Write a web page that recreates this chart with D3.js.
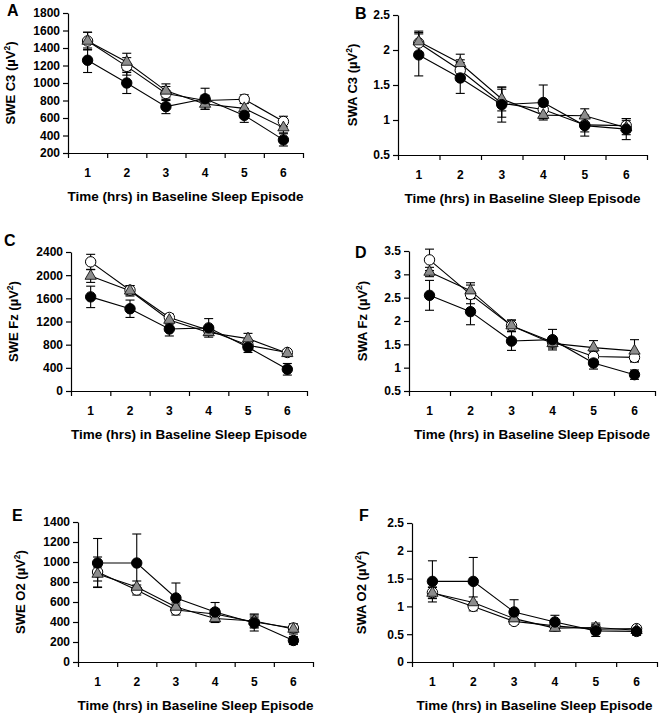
<!DOCTYPE html>
<html lang="en">
<head>
<meta charset="UTF-8" />
<script src="https://cdn.jsdelivr.net/npm/d3@7"></script>
<style>
  body { margin: 0; background: #fff; }
  svg text { font-family: "Liberation Sans", Arial, sans-serif; font-weight: bold; fill: #000; }
</style>
<title>SWE / SWA by hour</title>
</head>
<body>
<div id="fig"></div>
<script>
// hours of the baseline sleep episode
const hours = [1, 2, 3, 4, 5, 6];
const xTitle = "Time (hrs) in Baseline Sleep Episode";

// each panel: [filled circle, open circle, grey triangle]
const sweC3 = [[1260, 1000, 730, 820, 630, 350], [1480, 1190, 880, 800, 815, 560], [1480, 1240, 910, 760, 710, 490]];
const sweC3Err = [[140, 120, 80, 120, 80, 70], [100, 100, 80, 60, 50, 60], [100, 100, 80, 60, 60, 60]];

const swaC3 = [[1.93, 1.6, 1.22, 1.25, 0.92, 0.87], [2.1, 1.71, 1.24, 1.15, 0.93, 0.92], [2.12, 1.81, 1.3, 1.07, 1.06, 0.89]];
const swaC3Err = [[0.3, 0.22, 0.25, 0.25, 0.15, 0.15], [0.15, 0.15, 0.2, 0.1, 0.1, 0.1], [0.15, 0.13, 0.17, 0.05, 0.1, 0.1]];

const sweFz = [[1625, 1420, 1070, 1090, 755, 375], [2230, 1740, 1270, 1050, 790, 665], [1985, 1730, 1225, 1010, 905, 650]];
const sweFzErr = [[185, 150, 120, 160, 90, 100], [130, 80, 60, 60, 60, 50], [110, 90, 70, 50, 90, 50]];

const swaFz = [[2.55, 2.2, 1.57, 1.6, 1.1, 0.85], [3.31, 2.57, 1.9, 1.55, 1.24, 1.22], [3.05, 2.65, 1.9, 1.52, 1.43, 1.36]];
const swaFzErr = [[0.32, 0.28, 0.2, 0.22, 0.13, 0.1], [0.23, 0.2, 0.12, 0.1, 0.1, 0.08], [0.1, 0.17, 0.12, 0.1, 0.15, 0.24]];

const sweO2 = [[990, 990, 640, 500, 390, 215], [900, 720, 520, 480, 400, 340], [880, 750, 550, 435, 410, 330]];
const sweO2Err = [[245, 290, 150, 95, 80, 40], [150, 50, 50, 50, 50, 40], [70, 60, 40, 40, 70, 50]];

const swaO2 = [[1.45, 1.45, 0.9, 0.72, 0.56, 0.55], [1.25, 1.0, 0.73, 0.65, 0.59, 0.6], [1.24, 1.07, 0.78, 0.61, 0.62, 0.57]];
const swaO2Err = [[0.37, 0.43, 0.22, 0.12, 0.1, 0.07], [0.1, 0.08, 0.05, 0.05, 0.08, 0.05], [0.1, 0.1, 0.05, 0.05, 0.08, 0.05]];

const intFmt = d3.format("d"),
  decFmt = d3.format("~g");

// layout of the six panels (plot box in page pixels)
const panels = [
  { tag: "A", label: "SWE C3", means: sweC3, errs: sweC3Err, dom: [200, 1800], step: 200, fmt: intFmt,
    x0: 68, x1: 303, y0: 13, y1: 153, labOff: 53, tagX: 7, tagY: 16 },
  { tag: "B", label: "SWA C3", means: swaC3, errs: swaC3Err, dom: [0.5, 2.5], step: 0.5, fmt: decFmt,
    x0: 398, x1: 647, y0: 15, y1: 155, labOff: 41, tagX: 355, tagY: 19 },
  { tag: "C", label: "SWE Fz", means: sweFz, errs: sweFzErr, dom: [0, 2400], step: 400, fmt: intFmt,
    x0: 71, x1: 307, y0: 252, y1: 391, labOff: 53, tagX: 4, tagY: 246 },
  { tag: "D", label: "SWA Fz", means: swaFz, errs: swaFzErr, dom: [0.5, 3.5], step: 0.5, fmt: decFmt,
    x0: 409, x1: 655, y0: 251, y1: 391, labOff: 42, tagX: 355, tagY: 258 },
  { tag: "E", label: "SWE O2", means: sweO2, errs: sweO2Err, dom: [0, 1400], step: 200, fmt: intFmt,
    x0: 78, x1: 313, y0: 522, y1: 662, labOff: 53, tagX: 12, tagY: 521 },
  { tag: "F", label: "SWA O2", means: swaO2, errs: swaO2Err, dom: [0, 2.5], step: 0.5, fmt: decFmt,
    x0: 412, x1: 657, y0: 523, y1: 662, labOff: 46, tagX: 359, tagY: 521 },
];

const svg = d3.select("#fig").append("svg").attr("width", 661).attr("height", 718);

// draw order: open circle, triangle, filled circle
const drawOrder = [1, 2, 0];
const triangle = d3.symbol().type(d3.symbolTriangle).size(55);

panels.forEach((p) => {
  const g = svg.append("g");
  const x = d3.scaleLinear().domain([0.5, 6.5]).range([p.x0, p.x1]);
  const y = d3.scaleLinear().domain(p.dom).range([p.y1, p.y0]);
  const yTicks = d3.range(p.dom[0], p.dom[1] + p.step / 2, p.step);

  // Y axis
  const ya = g.append("g")
    .attr("transform", `translate(${p.x0},0)`)
    .call(d3.axisLeft(y).tickValues(yTicks).tickFormat(p.fmt).tickSize(5).tickSizeOuter(0).tickPadding(3));
  ya.selectAll("text").attr("font-size", 12).style("font-family", null);

  // X axis: ticks between hours, labels at hours
  g.append("g")
    .attr("transform", `translate(0,${p.y1})`)
    .call(d3.axisBottom(x).tickValues(d3.range(0.5, 7, 1)).tickFormat("").tickSize(5).tickSizeOuter(0));
  g.selectAll(".domain, .tick line").attr("stroke", "#000").attr("stroke-width", 1.2);

  g.selectAll(".hr")
    .data(hours)
    .enter()
    .append("text")
    .attr("x", (d) => x(d))
    .attr("y", p.y1 + 24)
    .attr("text-anchor", "middle")
    .attr("font-size", 12)
    .text((d) => d);

  g.append("text")
    .attr("x", (p.x0 + p.x1) / 2)
    .attr("y", p.y1 + 48)
    .attr("text-anchor", "middle")
    .attr("font-size", 13.5)
    .text(xTitle);

  // Y label with superscript
  const yl = g.append("text")
    .attr("transform", `translate(${p.x0 - p.labOff},${(p.y0 + p.y1) / 2}) rotate(-90)`)
    .attr("text-anchor", "middle")
    .attr("font-size", 13);
  yl.append("tspan").text(p.label + " (\u00b5V");
  yl.append("tspan").attr("dy", -5).attr("font-size", 8.5).text("2");
  yl.append("tspan").attr("dy", 5).text(")");

  // panel letter
  g.append("text")
    .attr("x", p.tagX)
    .attr("y", p.tagY)
    .attr("font-size", 16)
    .text(p.tag);

  // error bars
  drawOrder.forEach((s) => {
    const eg = g.append("g").attr("stroke", "#000").attr("stroke-width", 1.1);
    hours.forEach((h, i) => {
      const m = p.means[s][i], e = p.errs[s][i];
      const cx = x(h);
      eg.append("line").attr("x1", cx).attr("x2", cx).attr("y1", y(m - e)).attr("y2", y(m + e));
      eg.append("line").attr("x1", cx - 4.5).attr("x2", cx + 4.5).attr("y1", y(m - e)).attr("y2", y(m - e));
      eg.append("line").attr("x1", cx - 4.5).attr("x2", cx + 4.5).attr("y1", y(m + e)).attr("y2", y(m + e));
    });
  });

  // lines
  const line = d3.line().x((d, i) => x(hours[i])).y((d) => y(d));
  drawOrder.forEach((s) => {
    g.append("path")
      .attr("d", line(p.means[s]))
      .attr("fill", "none")
      .attr("stroke", "#000")
      .attr("stroke-width", 1.1);
  });

  // markers
  drawOrder.forEach((s) => {
    const mg = g.append("g");
    p.means[s].forEach((m, i) => {
      const cx = x(hours[i]), cy = y(m);
      if (s === 2) {
        mg.append("path")
          .attr("d", triangle())
          .attr("transform", `translate(${cx},${cy})`)
          .attr("fill", "#8c8c8c")
          .attr("stroke", "#000")
          .attr("stroke-width", 0.8);
      } else {
        mg.append("circle")
          .attr("cx", cx)
          .attr("cy", cy)
          .attr("r", 5.2)
          .attr("fill", s === 0 ? "#000" : "#fff")
          .attr("stroke", "#000")
          .attr("stroke-width", 1);
      }
    });
  });
});
</script>
</body>
</html>
